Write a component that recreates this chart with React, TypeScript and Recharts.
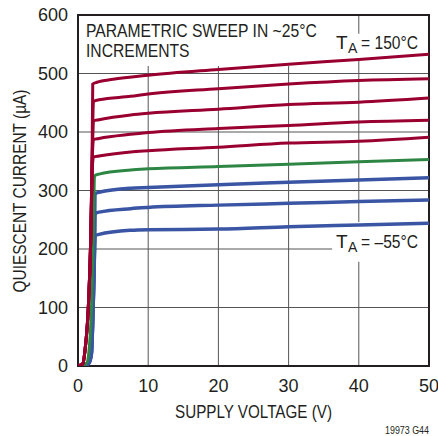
import React from 'react';
import {
  LineChart,
  Line,
  XAxis,
  YAxis,
  CartesianGrid,
  ReferenceArea,
} from 'recharts';

// supply voltage (V) vs quiescent current (uA), one curve per ~25C step
const t150 = [
  [0, 0], [0.7, 4], [1.0, 27], [1.47, 100], [1.8, 210], [2.0, 340], [2.1, 482],
  [2.7, 485], [5, 490], [10, 497], [20, 507], [30, 516], [40, 524], [50, 533],
];
const t125 = [
  [0, 0], [0.7, 4], [1.0, 27], [1.47, 100], [1.8, 210], [2.0, 340], [2.2, 452],
  [3, 455], [7.5, 461], [10, 465], [20, 474], [30, 482], [40, 488], [50, 491],
];
const t100 = [
  [0, 0], [0.7, 4], [1.0, 27], [1.47, 100], [1.8, 210], [2.0, 340], [2.2, 419],
  [3, 421], [7.5, 429], [10, 432], [20, 439], [30, 447], [40, 451], [50, 458],
];
const t75 = [
  [0, 0], [0.7, 4], [1.0, 27], [1.47, 100], [1.8, 210], [2.0, 340], [2.2, 387],
  [3, 389], [7.5, 396], [10, 399], [20, 406], [30, 411], [40, 417], [50, 420],
];
const t50 = [
  [0, 0], [0.7, 4], [1.0, 27], [1.47, 100], [1.8, 210], [2.05, 340], [2.2, 357],
  [3, 359], [7.5, 366], [10, 368], [20, 374], [30, 381], [40, 384], [50, 391],
];
const t25 = [
  [0, 0], [1.2, 4], [1.6, 30], [1.95, 110], [2.2, 230], [2.35, 325],
  [3, 328], [7.5, 335], [10, 337], [20, 341], [30, 345], [40, 349], [50, 353],
];
const t0 = [
  [0, 0], [1.5, 4], [1.9, 20], [2.15, 100], [2.35, 200], [2.42, 294],
  [3, 297], [7.5, 304], [10, 305], [20, 310], [30, 314], [40, 318], [50, 322],
];
const tm25 = [
  [0, 0], [1.5, 4], [1.9, 20], [2.15, 100], [2.35, 200], [2.42, 260],
  [3, 263], [7.5, 269], [10, 271], [20, 275], [30, 278], [40, 281], [50, 284],
];
const tm55 = [
  [0, 0], [1.5, 4], [1.9, 20], [2.15, 100], [2.35, 200], [2.45, 223],
  [3, 225], [7.5, 232], [10, 233], [20, 234], [30, 238], [40, 241], [50, 244],
];

const xTicks = [0, 10, 20, 30, 40, 50];
const yTicks = [0, 100, 200, 300, 400, 500, 600];

const RED = '#990030';
const GREEN = '#2e8644';
const BLUE = '#3a55a4';

const series = [
  { name: 'tm55', pts: tm55, color: BLUE, w: 3.5 },
  { name: 'tm25', pts: tm25, color: BLUE, w: 3.5 },
  { name: 't0', pts: t0, color: BLUE, w: 3.5 },
  { name: 't25', pts: t25, color: GREEN, w: 3 },
  { name: 't50', pts: t50, color: RED, w: 3 },
  { name: 't75', pts: t75, color: RED, w: 3 },
  { name: 't100', pts: t100, color: RED, w: 3 },
  { name: 't125', pts: t125, color: RED, w: 3 },
  { name: 't150', pts: t150, color: RED, w: 3 },
];

const FONT = "'Liberation Sans', Arial, sans-serif";
const tickStyle = { fill: '#231f20', fontSize: 18, fontFamily: FONT };

// "T" with subscript "A", then the rest of the label; pieces kept apart so they don't touch
const TempLabel = ({ y, rest }: { y: number; rest: string }) => (
  <g>
    <text x={336} y={y} fontSize={19}>T</text>
    <text x={348} y={y + 4} fontSize={14}>A</text>
    <text x={361} y={y} fontSize={19} textLength={57} lengthAdjust='spacingAndGlyphs'>
      {rest}
    </text>
  </g>
);

const App = () => {
  return (
    <div style={{ position: 'absolute', left: 0, top: 0, width: 438, height: 436, background: '#fff' }}>
      <LineChart width={438} height={436} margin={{ top: 15, right: 9, bottom: 0, left: 0 }}>
        <CartesianGrid stroke='#555' strokeWidth={1} />
        <XAxis
          type='number'
          dataKey='v'
          domain={[0, 50]}
          ticks={xTicks}
          height={70}
          tickLine={false}
          axisLine={false}
          tickSize={8}
          tickMargin={5}
          tick={tickStyle}
          allowDataOverflow
        />
        <YAxis
          type='number'
          dataKey='i'
          domain={[0, 600]}
          ticks={yTicks}
          width={78}
          tickLine={false}
          axisLine={false}
          tickSize={8}
          tickMargin={2}
          tick={tickStyle}
          allowDataOverflow
        />
        <ReferenceArea x1={0} x2={36} y1={513} y2={600} fill='#fff' fillOpacity={1} stroke='none' />
        <ReferenceArea x1={36.5} x2={50} y1={525} y2={568} fill='#fff' fillOpacity={1} stroke='none' />
        <ReferenceArea x1={36.2} x2={50} y1={178} y2={246} fill='#fff' fillOpacity={1} stroke='none' />
        {series.map((s) => (
          <Line
            key={s.name}
            data={s.pts.map(([v, i]) => ({ v, i }))}
            dataKey='i'
            type='monotone'
            stroke={s.color}
            strokeWidth={s.w}
            dot={false}
            activeDot={false}
            isAnimationActive={false}
          />
        ))}
        <ReferenceArea x1={0} x2={50} y1={0} y2={600} fill='none' stroke='#231f20' strokeWidth={2} />
      </LineChart>
      <svg
        width={438}
        height={436}
        style={{ position: 'absolute', left: 0, top: 0, pointerEvents: 'none' }}
        fontFamily={FONT}
        fill='#231f20'
      >
        <text transform='translate(86 37) scale(0.825 1)' fontSize={19}>
          PARAMETRIC SWEEP IN ~25°C
        </text>
        <text transform='translate(86 57) scale(0.825 1)' fontSize={19}>
          INCREMENTS
        </text>
        <TempLabel y={49} rest='= 150°C' />
        <TempLabel y={248} rest='= –55°C' />
        <text x={175} y={418} fontSize={19} textLength={157} lengthAdjust='spacingAndGlyphs'>
          SUPPLY VOLTAGE (V)
        </text>
        <text
          x={0}
          y={0}
          fontSize={19}
          textAnchor='middle'
          textLength={203}
          lengthAdjust='spacingAndGlyphs'
          transform='translate(26 191) rotate(-90)'
        >
          QUIESCENT CURRENT (µA)
        </text>
        <text x={429} y={434} fontSize={11} textAnchor='end' textLength={44} lengthAdjust='spacingAndGlyphs'>
          19973 G44
        </text>
      </svg>
    </div>
  );
};

export default App;
